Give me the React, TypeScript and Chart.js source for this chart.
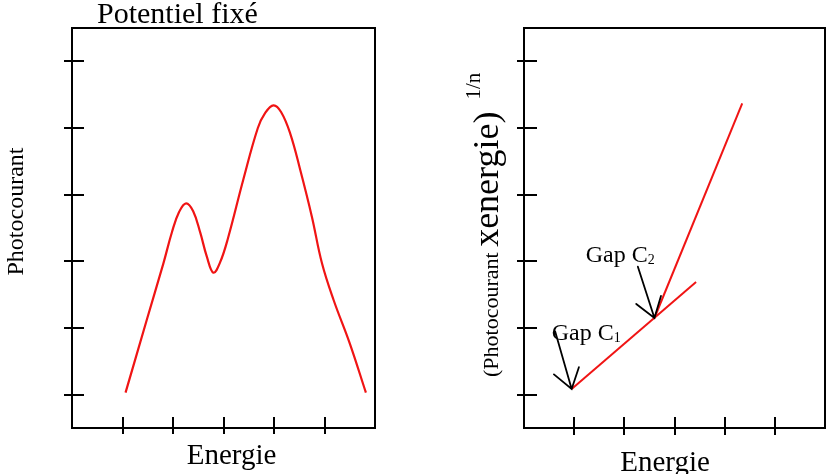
import React, { useEffect, useRef } from 'react';
import { Chart, registerables } from 'chart.js';

Chart.register(...registerables);

// ---- data ----
const xTickValues = [1, 2, 3, 4, 5];
const yTickValues = [0, 1, 2, 3, 4, 5];

// Left panel: photocurrent spectrum at fixed potential
const spectrumEnergy = [1.06, 1.48, 1.81, 1.98, 2.12, 2.26, 2.4, 2.54, 2.67, 2.8, 2.93, 3.09, 3.39, 3.68, 3.82, 3.99, 4.14, 4.32, 4.52, 4.75, 4.95, 5.18, 5.5, 5.82];
const spectrumCurrent = [0.03, 1.12, 1.97, 2.44, 2.74, 2.87, 2.75, 2.43, 2.07, 1.83, 1.98, 2.35, 3.22, 4.0, 4.22, 4.34, 4.24, 3.92, 3.37, 2.67, 1.97, 1.42, 0.77, 0.03];

// Right panel: (photocurrent x energy)^(1/n) linear segments
const gap1Energy = [0.95, 3.43];
const gap1Value = [0.085, 1.69];
const gap2Energy = [2.6, 4.35];
const gap2Value = [1.15, 4.37];

// Arrows (data coordinates): start -> tip
const arrowC1Energy = [0.62, 0.95];
const arrowC1Value = [0.95, 0.085];
const arrowC2Energy = [2.27, 2.6];
const arrowC2Value = [1.92, 1.15];

const FONT = '"Liberation Serif", "Times New Roman", serif';
const RED = '#f01414';

type TextItem = (ctx: CanvasRenderingContext2D, chart: any) => void;

function makeFramePlugin(tick: { yOut: number; yIn: number; xOut: number; xIn: number }, texts: TextItem[], arrows: number[][][]) {
  return {
    id: 'frameAndText',
    afterDatasetsDraw(chart: any) {
      const ctx: CanvasRenderingContext2D = chart.ctx;
      const { left, right, top, bottom } = chart.chartArea;
      const xs = chart.scales.x;
      const ys = chart.scales.y;
      ctx.save();
      ctx.strokeStyle = '#000';
      ctx.lineWidth = 2;
      ctx.strokeRect(left, top, right - left, bottom - top);
      ctx.beginPath();
      for (const v of yTickValues) {
        const py = Math.round(ys.getPixelForValue(v));
        ctx.moveTo(left - tick.yOut, py);
        ctx.lineTo(left + tick.yIn, py);
      }
      for (const v of xTickValues) {
        const px = Math.round(xs.getPixelForValue(v));
        ctx.moveTo(px, bottom - tick.xIn);
        ctx.lineTo(px, bottom + tick.xOut);
      }
      ctx.stroke();

      // arrows
      ctx.lineWidth = 1.8;
      ctx.lineCap = 'round';
      for (const a of arrows) {
        const [ex, ey] = a;
        const x0 = xs.getPixelForValue(ex[0]);
        const y0 = ys.getPixelForValue(ey[0]);
        const x1 = xs.getPixelForValue(ex[1]);
        const y1 = ys.getPixelForValue(ey[1]);
        const ang = Math.atan2(y0 - y1, x0 - x1);
        const hl = 23;
        const ha = 0.6;
        ctx.beginPath();
        ctx.moveTo(x0, y0);
        ctx.lineTo(x1, y1);
        ctx.moveTo(x1 + hl * Math.cos(ang - ha), y1 + hl * Math.sin(ang - ha));
        ctx.lineTo(x1, y1);
        ctx.lineTo(x1 + hl * Math.cos(ang + ha), y1 + hl * Math.sin(ang + ha));
        ctx.stroke();
      }

      ctx.fillStyle = '#000';
      for (const t of texts) {
        ctx.save();
        t(ctx, chart);
        ctx.restore();
      }
      ctx.restore();
    },
  };
}

function baseOptions(padding: any) {
  return {
    responsive: false,
    animation: false as const,
    devicePixelRatio: 1,
    layout: { padding },
    plugins: { legend: { display: false }, tooltip: { enabled: false }, title: { display: false } },
    scales: {
      x: { type: 'linear' as const, min: 0, max: 6, display: false },
      y: { type: 'linear' as const, min: -0.5, max: 5.5, display: false },
    },
    elements: { point: { radius: 0 } },
  };
}

function leftConfig(): any {
  const texts: TextItem[] = [
    (ctx) => {
      ctx.font = `30px ${FONT}`;
      ctx.textAlign = 'left';
      ctx.fillText('Potentiel fixé', 97, 23);
    },
    (ctx) => {
      ctx.font = `29px ${FONT}`;
      ctx.textAlign = 'center';
      ctx.fillText('Energie', 231.5, 464);
    },
    (ctx) => {
      ctx.font = `24px ${FONT}`;
      ctx.textAlign = 'center';
      ctx.translate(23, 211.5);
      ctx.rotate(-Math.PI / 2);
      ctx.fillText('Photocourant', 0, 0);
    },
  ];
  return {
    type: 'line',
    data: {
      datasets: [
        {
          data: spectrumEnergy.map((x, i) => ({ x, y: spectrumCurrent[i] })),
          borderColor: RED,
          borderWidth: 2.2,
          tension: 0.4,
          fill: false,
        },
      ],
    },
    options: baseOptions({ left: 72, top: 28, right: 38, bottom: 46 }),
    plugins: [makeFramePlugin({ yOut: 8, yIn: 12, xOut: 6, xIn: 11 }, texts, [])],
  };
}

function rightConfig(): any {
  const texts: TextItem[] = [
    (ctx) => {
      ctx.font = `29px ${FONT}`;
      ctx.textAlign = 'center';
      ctx.fillText('Energie', 252, 471);
    },
    (ctx) => {
      ctx.textAlign = 'left';
      ctx.translate(85, 377);
      ctx.rotate(-Math.PI / 2);
      ctx.font = `22px ${FONT}`;
      const s1 = '(Photocourant ';
      ctx.fillText(s1, 0, 0);
      const w1 = ctx.measureText(s1).width;
      ctx.font = `36px ${FONT}`;
      const s2 = 'xenergie)';
      ctx.fillText(s2, w1, 0);
      const w2 = ctx.measureText(s2).width;
      ctx.font = `21px ${FONT}`;
      ctx.fillText('1/n', w1 + w2 + 12, -18);
    },
    (ctx) => {
      ctx.textAlign = 'left';
      ctx.font = `24px ${FONT}`;
      ctx.fillText('Gap C', 138.7, 340);
      const w = ctx.measureText('Gap C').width;
      ctx.font = `14px ${FONT}`;
      ctx.fillText('1', 138.7 + w, 342);
    },
    (ctx) => {
      ctx.textAlign = 'left';
      ctx.font = `24px ${FONT}`;
      ctx.fillText('Gap C', 172.7, 261.7);
      const w = ctx.measureText('Gap C').width;
      ctx.font = `14px ${FONT}`;
      ctx.fillText('2', 172.7 + w, 264);
    },
  ];
  return {
    type: 'line',
    data: {
      datasets: [
        {
          data: gap1Energy.map((x, i) => ({ x, y: gap1Value[i] })),
          borderColor: RED,
          borderWidth: 2,
          fill: false,
        },
        {
          data: gap2Energy.map((x, i) => ({ x, y: gap2Value[i] })),
          borderColor: RED,
          borderWidth: 2,
          fill: false,
        },
      ],
    },
    options: baseOptions({ left: 111, top: 28, right: 1, bottom: 46 }),
    plugins: [
      makeFramePlugin({ yOut: 7, yIn: 13, xOut: 7, xIn: 11 }, texts, [
        [arrowC1Energy, arrowC1Value],
        [arrowC2Energy, arrowC2Value],
      ]),
    ],
  };
}

function Panel({ left, makeConfig }: { left: number; makeConfig: () => any }) {
  const ref = useRef<HTMLCanvasElement>(null);
  useEffect(() => {
    if (!ref.current) return;
    const chart = new Chart(ref.current, makeConfig());
    return () => chart.destroy();
  }, []);
  return (
    <canvas
      ref={ref}
      width={413}
      height={474}
      style={{ position: 'absolute', left, top: 0, width: 413, height: 474, display: 'block' }}
    />
  );
}

export default function App() {
  return (
    <div style={{ position: 'fixed', left: 0, top: 0, width: 826, height: 474, background: '#fff', overflow: 'hidden' }}>
      <Panel left={0} makeConfig={leftConfig} />
      <Panel left={413} makeConfig={rightConfig} />
    </div>
  );
}
